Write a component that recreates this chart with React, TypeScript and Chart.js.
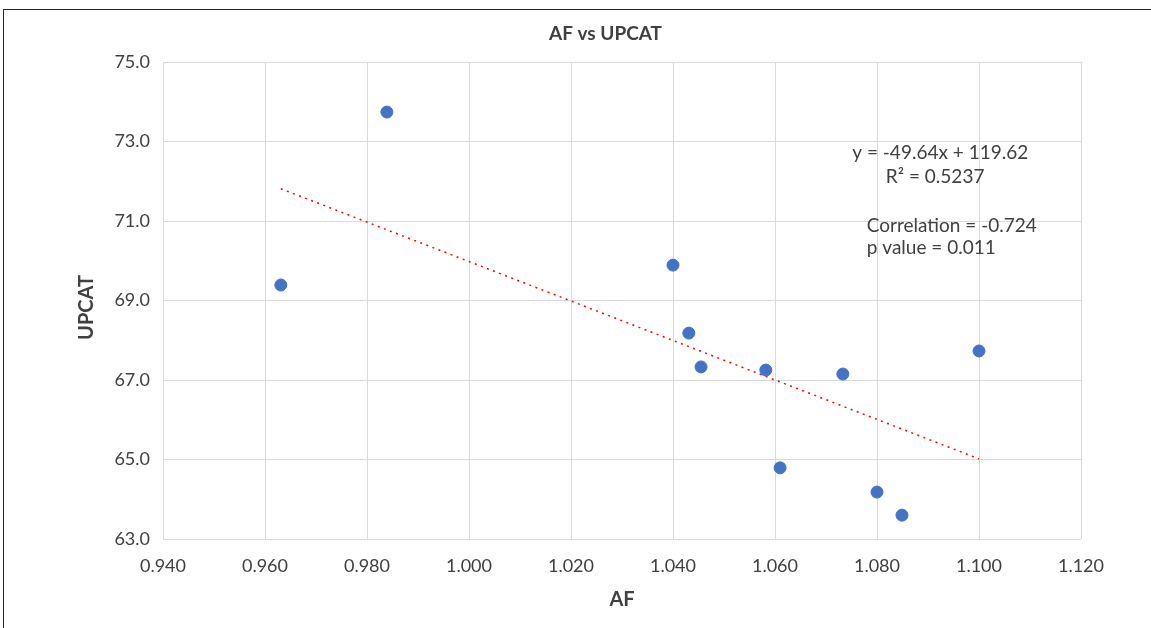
import React, { useEffect, useRef } from "react";
import { Chart, registerables } from "chart.js";

Chart.register(...registerables);

// ---- data ----
const chartTitle = "AF vs UPCAT";
const xAxisTitle = "AF";
const yAxisTitle = "UPCAT";

const afValues = [0.9631, 0.9839, 1.04, 1.0431, 1.0455, 1.0582, 1.061, 1.0733, 1.08, 1.0849, 1.1];
const upcatValues = [69.39, 73.74, 69.89, 68.18, 67.33, 67.25, 64.79, 67.15, 64.18, 63.6, 67.73];

const xTickValues = [0.94, 0.96, 0.98, 1.0, 1.02, 1.04, 1.06, 1.08, 1.1, 1.12];
const yTickValues = [63, 65, 67, 69, 71, 73, 75];

const trendSlope = -49.64;
const trendIntercept = 119.62;

const equationLines = ["y = -49.64x + 119.62", "R\u00b2 = 0.5237"];
const statsLines = ["Correlation = -0.724", "p value = 0.011"];

// ---- styles ----
const TEXT_COLOR = "#404040";
const GRID_COLOR = "#d9d9d9";
const POINT_COLOR = "#4472C4";
const TREND_COLOR = "#FF0000";
const FONT = "Lato, 'Open Sans', sans-serif";

export default function App() {
  const canvasRef = useRef<HTMLCanvasElement | null>(null);

  useEffect(() => {
    const canvas = canvasRef.current;
    if (!canvas) return;

    const xMinData = Math.min(...afValues);
    const xMaxData = Math.max(...afValues);
    const trendPoints = [xMinData, xMaxData].map((x) => ({ x, y: trendSlope * x + trendIntercept }));

    const textPlugin = {
      id: "texts",
      afterDraw(chart: any) {
        const { ctx, chartArea, scales } = chart;
        const xs = scales.x;
        const ys = scales.y;
        ctx.save();
        ctx.fillStyle = TEXT_COLOR;
        ctx.textBaseline = "middle";
        // title
        ctx.font = `bold 19px ${FONT}`;
        ctx.textAlign = "center";
        ctx.fillText(chartTitle, (chartArea.left + chartArea.right) / 2 - 16.5, 23.5);
        // y axis title
        ctx.save();
        ctx.font = `bold 20px ${FONT}`;
        ctx.translate(83, (chartArea.top + chartArea.bottom) / 2 + 7);
        ctx.rotate(-Math.PI / 2);
        ctx.fillText(yAxisTitle, 0, 0);
        ctx.restore();
        // equation (centered)
        ctx.font = `19px ${FONT}`;
        ctx.fillText(equationLines[0], xs.getPixelForValue(1.0924), ys.getPixelForValue(72.71));
        ctx.fillText(equationLines[1], xs.getPixelForValue(1.0914), ys.getPixelForValue(72.11));
        // stats (left aligned)
        ctx.textAlign = "left";
        ctx.fillText(statsLines[0], xs.getPixelForValue(1.078), ys.getPixelForValue(70.87));
        ctx.fillText(statsLines[1], xs.getPixelForValue(1.078), ys.getPixelForValue(70.32));
        ctx.restore();
      },
    };

    const chart = new Chart(canvas, {
      type: "scatter",
      data: {
        datasets: [
          {
            type: "line",
            label: "Trend",
            data: trendPoints,
            borderColor: TREND_COLOR,
            borderWidth: 1.5,
            borderDash: [2, 4.5],
            pointRadius: 0,
            fill: false,
            order: 2,
          } as any,
          {
            label: "UPCAT",
            data: afValues.map((x, i) => ({ x, y: upcatValues[i] })),
            backgroundColor: POINT_COLOR,
            borderColor: POINT_COLOR,
            pointRadius: 6,
            pointHoverRadius: 6,
            order: 1,
          },
        ],
      },
      options: {
        responsive: false,
        animation: false,
        devicePixelRatio: 1,
        layout: { padding: { top: 52, right: 70, left: 0, bottom: 0 } },
        plugins: {
          legend: { display: false },
          title: { display: false },
          tooltip: { enabled: false },
        },
        scales: {
          x: {
            type: "linear",
            min: xTickValues[0],
            max: xTickValues[xTickValues.length - 1],
            afterBuildTicks: (scale: any) => {
              scale.ticks = xTickValues.map((v) => ({ value: v }));
            },
            afterFit: (scale: any) => {
              scale.height = 89;
            },
            grid: { color: GRID_COLOR, drawTicks: false, lineWidth: 1 },
            border: { display: false },
            ticks: {
              padding: 16.7,
              color: TEXT_COLOR,
              font: { family: FONT, size: 18 },
              maxRotation: 0,
              autoSkip: false,
              callback: (v: any) => Number(v).toFixed(3),
            },
            title: {
              display: true,
              text: xAxisTitle,
              color: TEXT_COLOR,
              font: { family: FONT, size: 20, weight: "bold" },
              padding: { top: 0, bottom: 16 },
            },
          },
          y: {
            type: "linear",
            min: yTickValues[0],
            max: yTickValues[yTickValues.length - 1],
            afterBuildTicks: (scale: any) => {
              scale.ticks = yTickValues.map((v) => ({ value: v }));
            },
            afterFit: (scale: any) => {
              scale.width = 159;
            },
            grid: { color: GRID_COLOR, drawTicks: false, lineWidth: 1 },
            border: { display: false },
            ticks: {
              padding: 13,
              color: TEXT_COLOR,
              font: { family: FONT, size: 18 },
              autoSkip: false,
              callback: (v: any) => Number(v).toFixed(1),
            },
            title: { display: false },
          },
        },
      },
      plugins: [textPlugin],
    });

    return () => chart.destroy();
  }, []);

  return (
    <div
      style={{
        position: "absolute",
        left: 3,
        top: 9,
        width: 1148,
        height: 619,
        boxSizing: "border-box",
        borderLeft: "1px solid #262626",
        borderTop: "1px solid #262626",
        background: "#fff",
      }}
    >
      <canvas ref={canvasRef} width={1147} height={618} style={{ display: "block", width: 1147, height: 618 }} />
    </div>
  );
}
